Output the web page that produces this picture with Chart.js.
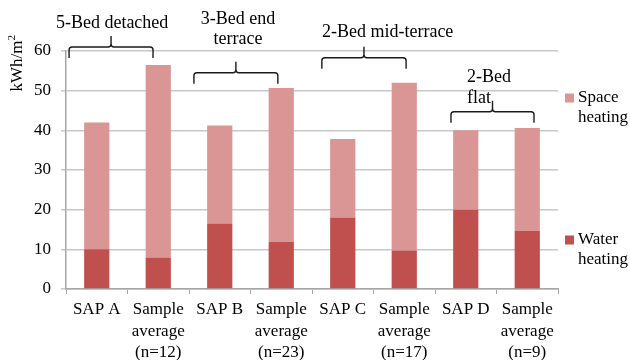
<!DOCTYPE html>
<html>
<head>
<meta charset="utf-8">
<script src="https://cdn.jsdelivr.net/npm/chart.js@4"></script>
<style>
  html, body { margin: 0; padding: 0; background: #fff; }
  #wrap { width: 630px; height: 360px; }
</style>
</head>
<body>
<div id="wrap"><canvas id="heatChart" width="630" height="360"></canvas></div>
<script>
// categories (multi-line tick labels)
const categories = [
  ["SAP A"], ["Sample", "average", "(n=12)"],
  ["SAP B"], ["Sample", "average", "(n=23)"],
  ["SAP C"], ["Sample", "average", "(n=17)"],
  ["SAP D"], ["Sample", "average", "(n=9)"]
];

// kWh/m2 per dwelling
const waterHeating = [10.0, 7.9, 16.5, 11.9, 18.0, 9.7, 20.0, 14.7];
const spaceHeating = [32.0, 48.6, 24.7, 38.8, 19.8, 42.3, 20.0, 25.9];

const yTicks = [0, 10, 20, 30, 40, 50, 60];

// house type groups: label lines and the pair of bars they cover
const groupNames = [
  ["5-Bed detached"],
  ["3-Bed end", "terrace"],
  ["2-Bed mid-terrace"],
  ["2-Bed", "flat"]
];

const SERIF = "'Liberation Serif', 'Times New Roman', serif";
const SPACE_COL = "#d99694";
const WATER_COL = "#c0504d";

// brace placement, in category index / axis units
const braces = [
  { from: -0.45, to: 0.915, at: 61.0 },
  { from: 1.58, to: 2.945, at: 54.5 },
  { from: 3.66, to: 5.03, at: 58.3 },
  { from: 5.76, to: 7.11, at: 44.7 }
];
const groupLabelPos = [
  { x: 0.25, y: [67.0], align: "center" },
  { x: 2.295, y: [68.1, 63.05], align: "center" },
  { x: 4.73, y: [64.6], align: "center" },
  { x: 6.02, y: [53.5, 48.2], align: "left" }
];

function idxToPx(xs, i) {
  const w = xs.getPixelForValue(1) - xs.getPixelForValue(0);
  return xs.getPixelForValue(0) + i * w;
}

const extras = {
  id: "extras",
  afterDraw(chart) {
    const ctx = chart.ctx;
    const xs = chart.scales.x, ys = chart.scales.y;
    ctx.save();

    // braces over each pair of bars
    ctx.strokeStyle = "#1a1a1a";
    ctx.lineWidth = 1.4;
    braces.forEach(b => {
      const x1 = idxToPx(xs, b.from), x2 = idxToPx(xs, b.to);
      const xc = (x1 + x2) / 2;
      const yl = ys.getPixelForValue(b.at);
      const h = 11, r = 3;
      ctx.beginPath();
      ctx.moveTo(x1, yl + h);
      ctx.lineTo(x1, yl + r);
      ctx.quadraticCurveTo(x1, yl, x1 + r, yl);
      ctx.lineTo(xc - r, yl);
      ctx.quadraticCurveTo(xc, yl, xc, yl - r);
      ctx.lineTo(xc, yl - h);
      ctx.moveTo(xc, yl - r);
      ctx.quadraticCurveTo(xc, yl, xc + r, yl);
      ctx.lineTo(x2 - r, yl);
      ctx.quadraticCurveTo(x2, yl, x2, yl + r);
      ctx.lineTo(x2, yl + h);
      ctx.stroke();
    });

    // group names
    ctx.fillStyle = "#000";
    ctx.font = "18px " + SERIF;
    ctx.textBaseline = "middle";
    groupNames.forEach((lines, g) => {
      const p = groupLabelPos[g];
      ctx.textAlign = p.align;
      lines.forEach((t, k) => {
        ctx.fillText(t, idxToPx(xs, p.x), ys.getPixelForValue(p.y[k]));
      });
    });

    // y axis title kWh/m²
    ctx.translate(18, 63);
    ctx.rotate(-Math.PI / 2);
    ctx.font = "17px " + SERIF;
    const main = "kWh/m";
    const wMain = ctx.measureText(main).width;
    ctx.textAlign = "left";
    ctx.fillText(main, -(wMain + 6) / 2, 0);
    ctx.font = "11px " + SERIF;
    ctx.fillText("2", -(wMain + 6) / 2 + wMain, -6);
    ctx.setTransform(1, 0, 0, 1, 0, 0);

    // legend
    const items = [
      { name: ["Space", "heating"], color: SPACE_COL, y: 98 },
      { name: ["Water", "heating"], color: WATER_COL, y: 240 }
    ];
    ctx.font = "17px " + SERIF;
    ctx.textAlign = "left";
    items.forEach(it => {
      ctx.fillStyle = it.color;
      ctx.fillRect(chart.chartArea.right + 7, it.y - 4.5, 9, 9);
      ctx.fillStyle = "#000";
      it.name.forEach((t, k) => ctx.fillText(t, chart.chartArea.right + 20, it.y + k * 20));
    });
    ctx.restore();
  }
};

new Chart(document.getElementById("heatChart"), {
  type: "bar",
  data: {
    labels: categories,
    datasets: [
      { label: "Water heating", data: waterHeating, backgroundColor: WATER_COL,
        barPercentage: 0.41, categoryPercentage: 1 },
      { label: "Space heating", data: spaceHeating, backgroundColor: SPACE_COL,
        barPercentage: 0.41, categoryPercentage: 1 }
    ]
  },
  options: {
    responsive: false,
    animation: false,
    devicePixelRatio: 1,
    layout: { padding: { left: 0, right: 72, top: 51, bottom: 0 } },
    plugins: { legend: { display: false }, tooltip: { enabled: false } },
    scales: {
      x: {
        stacked: true,
        offset: true,
        grid: { offset: true, drawOnChartArea: false, drawTicks: true, tickLength: 5, color: "#a6a6a6" },
        border: { color: "#a6a6a6", width: 1.5 },
        ticks: {
          color: "#000", padding: 5, maxRotation: 0, autoSkip: false,
          font: { family: SERIF, size: 17, lineHeight: 1.26 }
        },
        afterFit(scale) { scale.height = 71; }
      },
      y: {
        stacked: true,
        min: 0, max: 60,
        afterBuildTicks(scale) { scale.ticks = yTicks.map(v => ({ value: v })); },
        grid: { color: "#c8c8c8", lineWidth: 1.5, tickLength: 5 },
        border: { color: "#a6a6a6", width: 1.5 },
        ticks: { color: "#000", padding: 10, font: { family: SERIF, size: 17 } },
        afterFit(scale) { scale.width = 66; }
      }
    }
  },
  plugins: [extras]
});
</script>
</body>
</html>
